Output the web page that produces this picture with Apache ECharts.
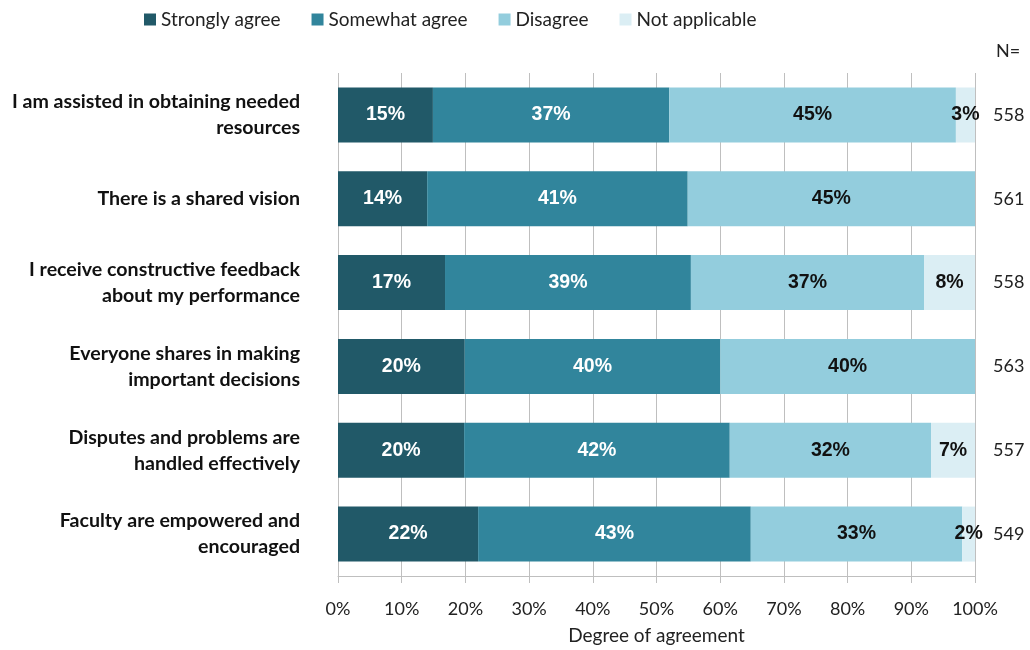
<!DOCTYPE html>
<html>
<head>
<meta charset="utf-8">
<script src="https://cdn.jsdelivr.net/npm/echarts@6/dist/echarts.min.js"></script>
<style>
  html, body { margin: 0; padding: 0; background: #fff; }
  #chart { width: 1030px; height: 650px; }
</style>
</head>
<body>
<div id="chart"></div>
<script>
const FONT = 'Lato, "Open Sans", sans-serif';
const LABEL_FONT = '"Liberation Sans", Arial, sans-serif';

const categories = [
  "I am assisted in obtaining needed\nresources",
  "There is a shared vision",
  "I receive constructive feedback\nabout my performance",
  "Everyone shares in making\nimportant decisions",
  "Disputes and problems are\nhandled effectively",
  "Faculty are empowered and\nencouraged"
];
const counts = ["558", "561", "558", "563", "557", "549"];

// percent values
const stronglyAgree = [14.9, 14.0, 16.8, 19.9, 19.8, 22.0];
const somewhatAgree = [37.1, 40.9, 38.6, 40.1, 41.7, 42.8];
const disagree      = [45.0, 45.1, 36.6, 40.0, 31.6, 33.2];
const notApplicable = [3.0, 0, 8.0, 0, 6.9, 2.0];

const seriesDefs = [
  { name: "Strongly agree", data: stronglyAgree, color: "#215968", text: "#fff" },
  { name: "Somewhat agree", data: somewhatAgree, color: "#31859C", text: "#fff" },
  { name: "Disagree", data: disagree, color: "#93CDDD", text: "#111" },
  { name: "Not applicable", data: notApplicable, color: "#DBEEF4", text: "#111" }
];

const chart = echarts.init(document.getElementById("chart"), null, { renderer: "canvas" });

chart.setOption({
  animation: false,
  backgroundColor: "#fff",
  grid: { left: 338, right: 55, top: 73, bottom: 74, containLabel: false },
  legend: {
    top: 5,
    left: 139,
    itemWidth: 12,
    itemHeight: 12,
    itemGap: 31,
    icon: "rect",
    textStyle: { fontFamily: FONT, fontSize: 19, color: "#222" },
    data: seriesDefs.map((s) => s.name)
  },
  xAxis: {
    type: "value",
    min: 0,
    max: 100,
    interval: 10,
    name: "Degree of agreement",
    nameLocation: "middle",
    nameGap: 50,
    nameTextStyle: { fontFamily: FONT, fontSize: 19, color: "#222" },
    axisLine: { show: true, lineStyle: { color: "#BFBFBF" } },
    axisTick: { show: true, length: 7, lineStyle: { color: "#BFBFBF" } },
    axisLabel: { margin: 24, fontFamily: FONT, fontSize: 18, color: "#222", formatter: (v) => v + "%" },
    splitLine: { show: true, lineStyle: { color: "#BFBFBF", width: 1 } }
  },
  yAxis: [
    {
      type: "category",
      inverse: true,
      data: categories,
      axisLine: { show: false },
      axisTick: { show: false },
      axisLabel: {
        margin: 38,
        fontFamily: FONT,
        fontWeight: "bold",
        fontSize: 19.6,
        lineHeight: 26,
        color: "#111",
        align: "right"
      }
    },
    {
      type: "category",
      inverse: true,
      position: "right",
      data: counts,
      axisLine: { show: false },
      axisTick: { show: false },
      axisLabel: { margin: 18, fontFamily: FONT, fontSize: 18, color: "#222" }
    }
  ],
  graphic: [
    {
      type: "text",
      left: 996,
      top: 42,
      style: { text: "N=", font: '18px ' + FONT, fill: "#222" }
    }
  ],
  series: seriesDefs.map((s) => ({
    name: s.name,
    type: "bar",
    stack: "total",
    barWidth: 55,
    itemStyle: { color: s.color },
    label: {
      show: true,
      position: "inside",
      fontFamily: LABEL_FONT,
      fontWeight: "bold",
      fontSize: 19.5,
      color: s.text,
      textBorderWidth: 0,
      formatter: (p) => (p.value > 0 ? Math.round(p.value) + "%" : "")
    },
    data: s.data
  }))
});
</script>
</body>
</html>
